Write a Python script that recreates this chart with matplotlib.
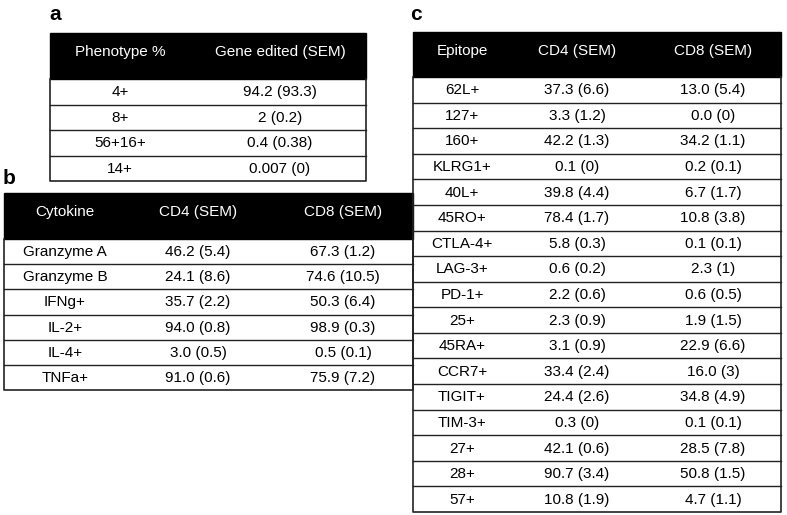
import matplotlib.pyplot as plt
from matplotlib.patches import Rectangle

plt.rcParams['font.family'] = ['Liberation Sans', 'DejaVu Sans']

# panel a
a_header = ["Phenotype %", "Gene edited (SEM)"]
a_rows = ["4+", "8+", "56+16+", "14+"]
a_edited = ["94.2 (93.3)", "2 (0.2)", "0.4 (0.38)", "0.007 (0)"]

# panel b
b_header = ["Cytokine", "CD4 (SEM)", "CD8 (SEM)"]
b_rows = ["Granzyme A", "Granzyme B", "IFNg+", "IL-2+", "IL-4+", "TNFa+"]
b_cd4 = ["46.2 (5.4)", "24.1 (8.6)", "35.7 (2.2)", "94.0 (0.8)", "3.0 (0.5)", "91.0 (0.6)"]
b_cd8 = ["67.3 (1.2)", "74.6 (10.5)", "50.3 (6.4)", "98.9 (0.3)", "0.5 (0.1)", "75.9 (7.2)"]

# panel c
c_header = ["Epitope", "CD4 (SEM)", "CD8 (SEM)"]
c_rows = ["62L+", "127+", "160+", "KLRG1+", "40L+", "45RO+", "CTLA-4+", "LAG-3+", "PD-1+",
          "25+", "45RA+", "CCR7+", "TIGIT+", "TIM-3+", "27+", "28+", "57+"]
c_cd4 = ["37.3 (6.6)", "3.3 (1.2)", "42.2 (1.3)", "0.1 (0)", "39.8 (4.4)", "78.4 (1.7)",
         "5.8 (0.3)", "0.6 (0.2)", "2.2 (0.6)", "2.3 (0.9)", "3.1 (0.9)", "33.4 (2.4)",
         "24.4 (2.6)", "0.3 (0)", "42.1 (0.6)", "90.7 (3.4)", "10.8 (1.9)"]
c_cd8 = ["13.0 (5.4)", "0.0 (0)", "34.2 (1.1)", "0.2 (0.1)", "6.7 (1.7)", "10.8 (3.8)",
         "0.1 (0.1)", "2.3 (1)", "0.6 (0.5)", "1.9 (1.5)", "22.9 (6.6)", "16.0 (3)",
         "34.8 (4.9)", "0.1 (0.1)", "28.5 (7.8)", "50.8 (1.5)", "4.7 (1.1)"]

fig = plt.figure(figsize=(7.87, 5.15), dpi=100)
ax = fig.add_axes([0, 0, 1, 1])
ax.set_xlim(0, 787)
ax.set_ylim(515, 0)
ax.axis('off')

FS = 11
LINE = '#222222'


def draw_table(x0, x1, top, head_bot, bottom, header, columns, col_x):
    n = len(columns[0])
    ax.add_patch(Rectangle((x0, top), x1 - x0, head_bot - top, facecolor='black',
                           edgecolor='black', lw=1))
    for cx, h in zip(col_x, header):
        ax.text(cx, top + 19, h, color='white', fontsize=FS, ha='center', va='center')
    rh = (bottom - head_bot) / n
    for i in range(n):
        y = head_bot + rh * (i + 0.5)
        for cx, col in zip(col_x, columns):
            ax.text(cx, y + 0.5, col[i], color='black', fontsize=FS, ha='center', va='center')
        if i > 0:
            ax.plot([x0, x1], [head_bot + rh * i] * 2, color=LINE, lw=1)
    ax.plot([x0, x0, x1, x1], [head_bot, bottom, bottom, head_bot], color=LINE, lw=1.2)


draw_table(50, 366, 33, 79, 181, a_header, [a_rows, a_edited], [120, 280])
draw_table(4, 413, 193, 239, 390, b_header, [b_rows, b_cd4, b_cd8], [65, 198, 343])
draw_table(413, 781, 32, 77, 512, c_header, [c_rows, c_cd4, c_cd8], [462, 577, 713])

ax.text(55, 15, "a", fontsize=15, fontweight='bold', ha='center', va='center')
ax.text(9, 179, "b", fontsize=15, fontweight='bold', ha='center', va='center')
ax.text(416, 15, "c", fontsize=15, fontweight='bold', ha='center', va='center')

fig.savefig("out.png", dpi=100, facecolor='white')
